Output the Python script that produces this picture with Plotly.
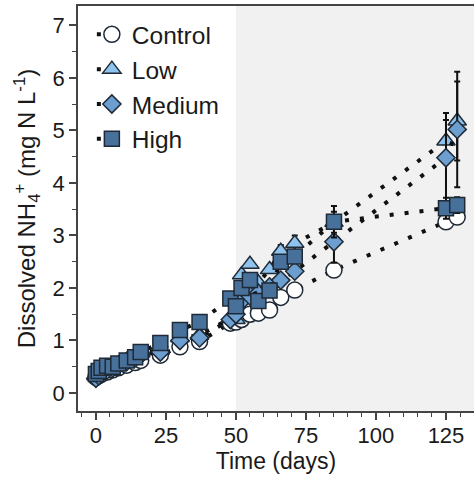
import plotly.graph_objects as go

days = [0, 1, 2, 4, 6, 8, 11, 14, 16, 23, 30, 37, 48, 50, 52, 55, 58, 62, 66, 71, 85, 125, 129]

control = [0.30, 0.33, 0.36, 0.40, 0.44, 0.48, 0.53, 0.58, 0.62, 0.72, 0.88, 0.98,
           1.33, 1.35, 1.40, 1.50, 1.52, 1.58, 1.82, 1.96, 2.34, 3.26, 3.35]
low = [0.33, 0.37, 0.42, 0.47, 0.50, 0.55, 0.62, 0.70, 0.76, 0.82, 1.05, 1.10,
       1.42, 1.40, 2.25, 2.45, 2.10, 2.35, 2.70, 2.85, 3.25, 4.80, 5.18]
medium = [0.28, 0.33, 0.40, 0.44, 0.48, 0.53, 0.60, 0.67, 0.73, 0.78, 1.00, 1.05,
          1.40, 1.50, 1.75, 1.85, 1.90, 2.02, 2.15, 2.32, 2.88, 4.48, 5.02]
high = [0.36, 0.42, 0.48, 0.52, 0.50, 0.56, 0.62, 0.68, 0.78, 0.95, 1.20, 1.35,
        1.80, 1.65, 2.00, 2.15, 1.75, 1.95, 2.50, 2.60, 3.26, 3.52, 3.58]

N = None
control_err = [N] * 20 + [N, 0.10, 0.10]
low_err = [N] * 18 + [0.12, 0.15, 0.20, 0.40, 0.75]
medium_err = [N] * 20 + [0.40, 0.85, 1.10]
high_err = [N] * 19 + [0.12, 0.30, 0.20, 0.15]

names = ["Control", "Low", "Medium", "High"]
series = [control, low, medium, high]
errors = [control_err, low_err, medium_err, high_err]
symbols = ["circle", "triangle-up", "diamond", "square"]
sizes = [16, 16, 14, 15]
fills = ["#ffffff", "#8DC3EC", "#6C9ECF", "#47709A"]
outline = "#1f2a36"

FONT = "Liberation Sans, Arial, sans-serif"
TXT = "#1a1a1a"

fig = go.Figure()
for i in range(4):
    fig.add_trace(go.Scatter(
        x=days, y=series[i], name=names[i], legendgroup=names[i],
        mode="lines+markers",
        line=dict(color="#111111", width=4, dash="4px,11px"),
        marker=dict(symbol=symbols[i], size=sizes[i], color=fills[i],
                    line=dict(color=outline, width=1.5)),
        error_y=dict(type="data", array=errors[i], visible=True,
                     color="#111111", thickness=2, width=3),
    ))

fig.add_shape(type="rect", xref="x", yref="paper", x0=50, x1=140, y0=0, y1=1,
              fillcolor="#f1f1f1", line=dict(width=0), layer="below")

fig.update_layout(
    width=474, height=480,
    margin=dict(l=78, r=0, t=6, b=69, autoexpand=False),
    plot_bgcolor="#ffffff", paper_bgcolor="#ffffff",
    font=dict(family=FONT, size=22, color=TXT),
    showlegend=True,
    legend=dict(x=0.035, y=0.9855, xanchor="left", yanchor="top",
                bgcolor="rgba(0,0,0,0)", borderwidth=0,
                font=dict(family=FONT, size=24.5, color=TXT),
                tracegroupgap=0, itemsizing="trace"),
)
fig.update_xaxes(
    range=[-6.4, 135], showgrid=False, zeroline=False, automargin=False,
    showline=True, linecolor="#444444", linewidth=1.5, mirror=True,
    ticks="outside", ticklen=7, tickwidth=1.5, tickcolor="#444444",
    tickmode="array", tickvals=[0, 25, 50, 75, 100, 125],
    minor=dict(ticks="outside", ticklen=4, tickwidth=1.2, tickcolor="#444444", dtick=5, showgrid=False),
    tickfont=dict(size=22, color=TXT), ticklabelstandoff=-3,
    title=dict(text="Time (days)", font=dict(size=23, color=TXT), standoff=0),
)
fig.update_yaxes(
    range=[-0.343, 7.37], showgrid=False, zeroline=False, automargin=False,
    showline=True, linecolor="#444444", linewidth=1.5,
    ticks="outside", ticklen=7, tickwidth=1.5, tickcolor="#444444",
    tickmode="array", tickvals=[0, 1, 2, 3, 4, 5, 6, 7],
    minor=dict(ticks="outside", ticklen=4, tickwidth=1.2, tickcolor="#444444", dtick=0.5, showgrid=False),
    tickfont=dict(size=22, color=TXT),
    title=dict(text="Dissolved NH<sub>4</sub><sup>+</sup> (mg N L<sup>-1</sup>)",
               font=dict(size=24, color=TXT), standoff=10),
)

fig.write_html("out.html", config={"displayModeBar": False},
               post_script="document.body.style.margin='0';")
